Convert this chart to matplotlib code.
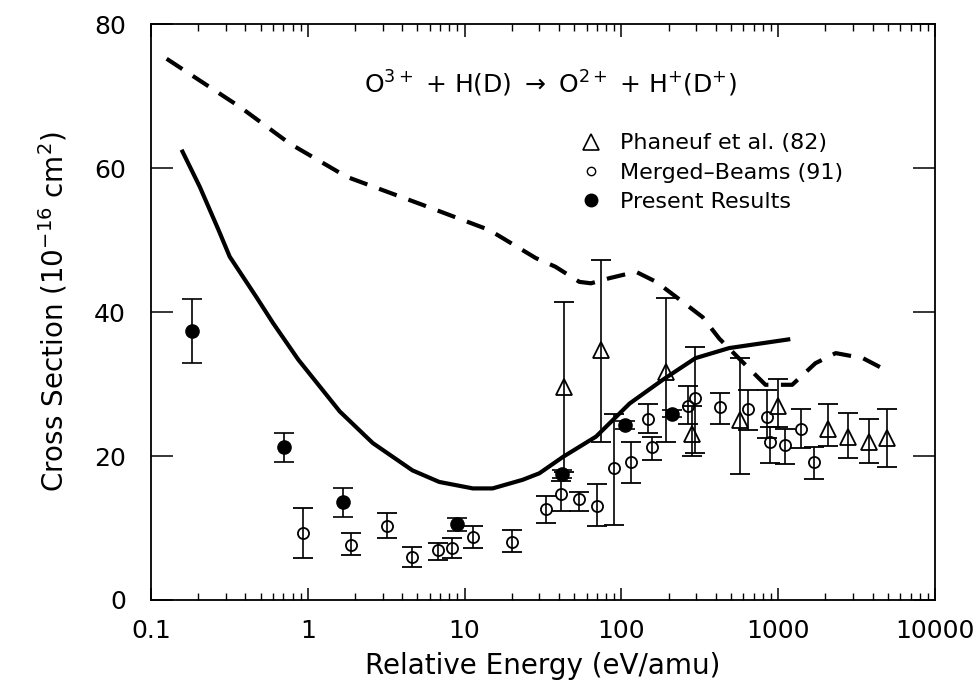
import numpy as np
import matplotlib.pyplot as plt
from matplotlib.lines import Line2D
from matplotlib.ticker import FixedLocator, LogLocator, NullFormatter, NullLocator

plt.rcParams['font.family'] = ['DejaVu Sans']
plt.rcParams['mathtext.fontset'] = 'dejavusans'

# --- theory curves ---
solid_E = [0.159, 0.205, 0.27, 0.318, 0.47, 0.6, 0.87, 1.6, 2.6, 4.66, 6.9, 11.3,
           15.1, 23.5, 30, 42.6, 69, 113, 184, 297, 487, 1160]
solid_v = [62.3, 57.4, 51.4, 47.7, 42.1, 38.5, 33.4, 26.2, 21.8, 18.0, 16.4, 15.5,
           15.5, 16.7, 17.6, 19.9, 22.7, 27.3, 30.6, 33.6, 35.0, 36.2]

dash_E = [0.126, 0.37, 0.77, 1.77, 5.4, 14.4, 28.5, 38, 54, 64, 83.5, 124, 167, 224,
          330, 422, 650, 830, 1230, 1730, 2330, 3470, 5100]
dash_v = [75.2, 68.5, 63.4, 58.8, 54.9, 51.4, 47.5, 46.3, 44.2, 44.0, 44.7, 45.6, 44.2,
          42.1, 39.3, 36.3, 32.2, 29.9, 29.9, 32.9, 34.3, 33.6, 31.7]

# --- Phaneuf et al. (82) ---
ph_E = [43.4, 74.5, 192, 284, 570, 1000, 2085, 2800, 3800, 4930]
ph_v = [29.6, 34.7, 31.7, 23.0, 25.0, 26.9, 23.8, 22.7, 21.9, 22.5]
ph_hi = [41.4, 47.3, 41.9, 26.9, 33.6, 30.7, 27.2, 26.0, 25.1, 26.6]
ph_lo = [17.8, 22.0, 21.9, 20.0, 17.5, 24.1, 21.4, 19.7, 19.0, 18.5]

# --- Merged-Beams (91) ---
mb_E = [0.93, 1.9, 3.2, 4.6, 6.8, 8.3, 11.3, 20, 33, 41, 54, 70, 90, 115, 149, 158,
        268, 295, 425, 640, 850, 890, 1105, 1390, 1700]
mb_v = [9.3, 7.7, 10.3, 6.0, 7.0, 7.2, 8.8, 8.1, 12.7, 14.7, 14.0, 13.0, 18.3, 19.2,
        25.2, 21.2, 26.9, 28.0, 26.8, 26.5, 25.4, 22.0, 21.6, 23.7, 19.2]
mb_hi = [12.8, 9.3, 12.1, 7.4, 7.9, 8.6, 10.3, 9.7, 14.5, 16.5, 15.0, 16.1, 25.9, 22.0,
         27.2, 22.7, 29.7, 35.2, 28.8, 29.2, 29.2, 24.0, 23.8, 26.6, 21.3]
mb_lo = [5.8, 6.25, 8.65, 4.6, 5.55, 5.8, 7.2, 6.7, 10.7, 12.3, 12.3, 10.3, 10.4, 16.3,
         23.2, 19.5, 24.5, 20.4, 24.5, 23.6, 22.5, 19.0, 18.9, 21.1, 16.8]

# --- Present results ---
pr_E = [0.183, 0.706, 1.68, 8.95, 41.8, 106, 209]
pr_v = [37.4, 21.25, 13.6, 10.6, 17.5, 24.3, 25.9]
pr_hi = [41.8, 23.25, 15.5, 11.35, 18.1, 24.8, 26.4]
pr_lo = [32.9, 19.2, 11.5, 9.6, 16.9, 23.8, 25.4]

x_ticks = [0.1, 1, 10, 100, 1000, 10000]
x_labels = ['0.1', '1', '10', '100', '1000', '10000']
y_ticks = [0, 20, 40, 60, 80]


def yerr(v, lo, hi):
    v, lo, hi = np.array(v), np.array(lo), np.array(hi)
    return [v - lo, hi - v]


fig = plt.figure(figsize=(9.8, 6.92), dpi=100)
ax = fig.add_axes([0.154, 0.133, 0.80, 0.832])

ax.plot(solid_E, solid_v, '-', color='black', lw=3, zorder=2)
ax.plot(dash_E, dash_v, color='black', lw=3, linestyle=(0, (4.5, 3)), zorder=2)

eb = dict(ecolor='black', elinewidth=1.2, capsize=7, capthick=1.2, linestyle='none', zorder=3)
ax.errorbar(ph_E, ph_v, yerr=yerr(ph_v, ph_lo, ph_hi), marker='^', ms=12,
            mfc='none', mec='black', mew=1.3, **eb)
ax.errorbar(mb_E, mb_v, yerr=yerr(mb_v, mb_lo, mb_hi), marker='o', ms=8,
            mfc='none', mec='black', mew=1.3, **eb)
ax.errorbar(pr_E, pr_v, yerr=yerr(pr_v, pr_lo, pr_hi), marker='o', ms=9.5,
            mfc='black', mec='black', **eb)

ax.set_xscale('log')
ax.set_xlim(0.1, 10000)
ax.set_ylim(0, 80)
ax.xaxis.set_major_locator(FixedLocator(x_ticks))
ax.set_xticklabels(x_labels)
ax.xaxis.set_minor_locator(LogLocator(base=10, subs=np.arange(2, 10)))
ax.xaxis.set_minor_formatter(NullFormatter())
ax.set_yticks(y_ticks)
ax.yaxis.set_minor_locator(NullLocator())

ax.tick_params(axis='x', which='major', direction='in', length=9, width=1.1,
               top=True, labelsize=18, pad=14)
ax.tick_params(axis='x', which='minor', direction='in', length=5, width=1.0, top=True)
ax.tick_params(axis='y', which='major', direction='in', length=16, width=1.1,
               right=True, labelsize=18, pad=18)
for s in ax.spines.values():
    s.set_linewidth(1.3)

ax.set_xlabel('Relative Energy (eV/amu)', fontsize=20, labelpad=6)
ax.set_ylabel(r'Cross Section (10$^{-16}$ cm$^{2}$)', fontsize=20, labelpad=18)

ax.text(0.509, 0.896, r'O$^{3+}$ + H(D) $\rightarrow$ O$^{2+}$ + H$^{+}$(D$^{+}$)',
        transform=ax.transAxes, ha='center', va='center', fontsize=18)

handles = [
    Line2D([], [], marker='^', ms=12, mfc='none', mec='black', mew=1.2, ls='none'),
    Line2D([], [], marker='o', ms=6, mfc='none', mec='black', mew=1.0, ls='none'),
    Line2D([], [], marker='o', ms=9, mfc='black', mec='black', ls='none'),
]
labels = ['Phaneuf et al. (82)', 'Merged\u2013Beams (91)', 'Present Results']
ax.legend(handles, labels, loc='upper left', bbox_to_anchor=(0.522, 0.845),
          frameon=False, fontsize=16, handlelength=1.0, handletextpad=0.8,
          labelspacing=0.42)

fig.savefig('out.png', dpi=100)
